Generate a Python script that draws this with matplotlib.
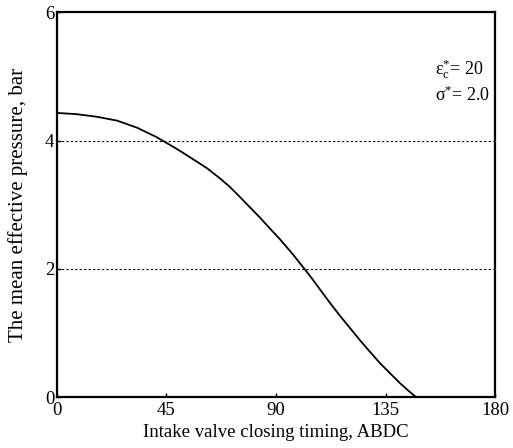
import numpy as np
import matplotlib.pyplot as plt

# intake valve closing timing (deg ABDC) vs mean effective pressure (bar)
ivc = [0, 8.2, 16.4, 24.7, 32.9, 41.1, 49.2, 53.0, 57.5, 61.6, 67.0, 71.0, 75.2, 79.3, 83.4,
	87.5, 91.7, 97.1, 101.5, 104.8, 108.1, 112.2, 116.3, 120.4, 124.5, 128.6, 132.8, 137.0,
	141.0, 144.5, 147.7]
pme = [4.43, 4.41, 4.37, 4.31, 4.20, 4.05, 3.87, 3.78, 3.67, 3.57, 3.41, 3.28, 3.12, 2.96, 2.80,
	2.63, 2.46, 2.22, 2.01, 1.85, 1.68, 1.47, 1.27, 1.08, 0.89, 0.71, 0.53, 0.37,
	0.22, 0.10, 0.0]

xticks = [0, 45, 90, 135, 180]
yticks = [0, 2, 4, 6]
gridlevels = [2, 4]

plt.rcParams['font.family'] = ['Liberation Serif', 'DejaVu Serif']
plt.rcParams['mathtext.fontset'] = 'custom'
plt.rcParams['mathtext.rm'] = 'Liberation Serif'

fig = plt.figure(figsize=(5.13, 4.48), dpi=100)
ax = fig.add_axes([0.111, 0.113, 0.854, 0.86])

ax.plot(ivc, pme, '-k', lw=1.3)
for g in gridlevels:
	ax.axhline(g, color='k', ls=(0, (2, 2)), lw=0.8)

ax.set_xlim(0, 180)
ax.set_ylim(0, 6)
ax.set_xticks(xticks)
ax.set_yticks(yticks)
ax.tick_params(direction='in', length=3, width=1, labelsize=13.5, pad=2)
ax.tick_params(axis='x', pad=3)
for s in ax.spines.values():
	s.set_linewidth(1.6)

ax.set_xlabel('Intake valve closing timing, ABDC', fontsize=13.5, labelpad=4)
ax.set_ylabel('The mean effective pressure, bar', fontsize=15, labelpad=12)

ax.text(155.5, 5.11, r'$\mathrm{\epsilon_c^{*}}$= 20', fontsize=13, va='center')
ax.text(155.5, 4.71, r'$\mathrm{\sigma^{*}}$= 2.0', fontsize=13, va='center')

plt.savefig('out.png', dpi=100)
